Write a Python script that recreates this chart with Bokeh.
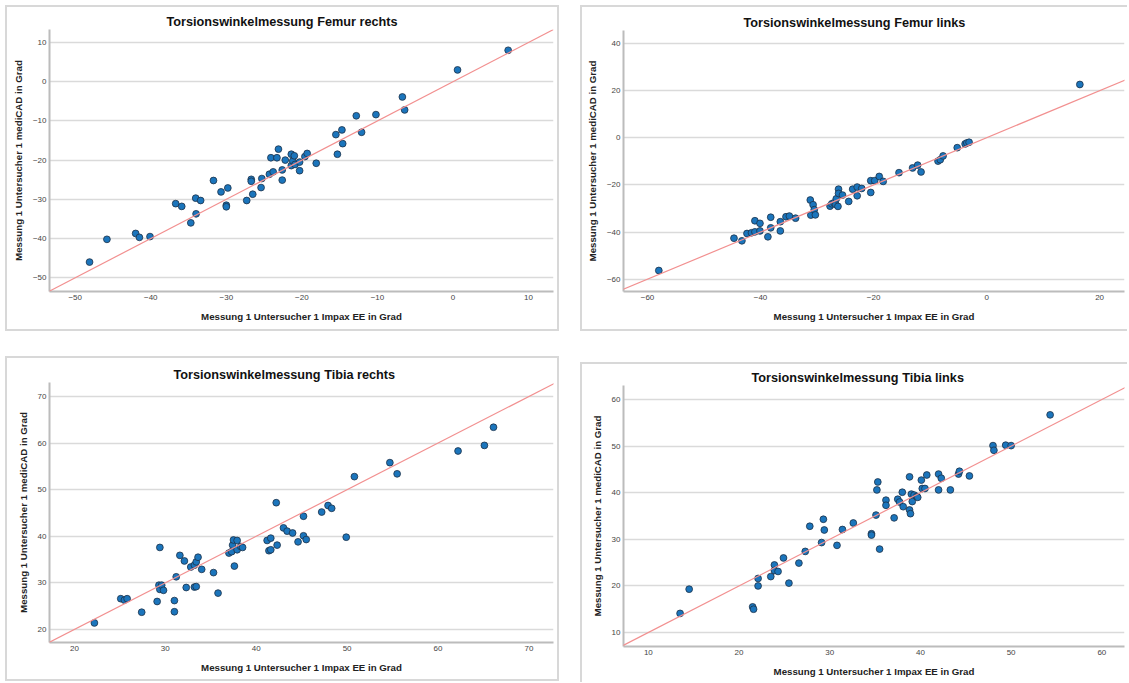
from bokeh.plotting import figure
from bokeh.layouts import row, column
from bokeh.models import FixedTicker, Slope
from bokeh.embed import file_html
from bokeh.resources import INLINE

# ---------------- data ----------------
X_LABEL = "Messung 1 Untersucher 1 Impax EE in Grad"
Y_LABEL = "Messung 1 Untersucher 1 mediCAD in Grad"

titles = ["Torsionswinkelmessung Femur rechts", "Torsionswinkelmessung Femur links",
          "Torsionswinkelmessung Tibia rechts", "Torsionswinkelmessung Tibia links"]

femur_re_x = [-48.1, -45.8, -42.0, -41.5, -40.1, -36.7, -35.9, -34.7, -34.05, -34.0, -33.4, -31.7,
              -30.7, -30.0, -30.0, -29.8, -27.3, -26.7, -26.7, -26.5, -25.3, -25.4, -24.1, -24.3,
              -23.8, -23.3, -23.1, -22.6, -22.6, -22.2, -21.4, -21.4, -21.2, -21.0, -20.9, -20.3,
              -20.3, -19.6, -19.3, -18.1, -15.5, -14.7, -15.3, -14.6, -12.8, -12.1, -10.2, -6.7,
              -6.4, 0.6, 7.3]
femur_re_y = [-46.0, -40.2, -38.7, -39.7, -39.5, -31.1, -31.8, -36.0, -29.7, -33.7, -30.3, -25.2,
              -28.1, -31.5, -31.9, -27.1, -30.3, -24.9, -25.4, -28.7, -24.7, -27.0, -19.4, -23.6,
              -23.0, -19.4, -17.2, -22.5, -25.1, -20.0, -18.5, -21.4, -20.2, -18.9, -21.1, -20.5,
              -22.7, -19.1, -18.3, -20.8, -13.5, -12.3, -18.5, -15.8, -8.7, -12.9, -8.4, -3.9,
              -7.2, 3.0, 8.0]

femur_li_x = [-58.0, -44.7, -43.3, -42.4, -41.6, -41.0, -41.0, -40.1, -40.1, -38.7, -38.2, -38.2,
              -36.5, -36.5, -35.5, -34.9, -33.8, -31.2, -31.1, -30.7, -30.5, -30.3, -27.7, -27.4,
              -27.0, -26.7, -26.6, -26.3, -26.2, -26.2, -25.5, -24.4, -23.7, -22.9, -22.9, -22.1,
              -20.5, -19.8, -20.5, -19.0, -18.3, -15.5, -13.1, -12.2, -11.6, -8.6, -8.2, -7.7,
              -5.2, -3.8, -3.5, -3.1, 16.5]
femur_li_y = [-56.3, -42.6, -43.7, -40.6, -40.3, -39.9, -35.2, -36.3, -39.5, -42.0, -33.7, -38.2,
              -35.6, -39.5, -33.5, -33.2, -34.1, -26.4, -32.8, -28.4, -30.5, -32.7, -29.0, -28.0,
              -27.6, -28.3, -25.9, -29.1, -21.8, -23.6, -24.3, -27.0, -21.8, -20.9, -24.6, -21.5,
              -18.2, -18.2, -23.2, -16.4, -18.5, -14.8, -12.8, -11.6, -14.5, -9.9, -9.3, -7.7,
              -4.2, -2.6, -2.2, -1.9, 22.6]

tibia_re_x = [22.2, 25.1, 25.5, 25.8, 27.4, 29.1, 29.4, 29.3, 29.4, 29.6, 29.8, 31.0, 31.0, 31.2,
              31.6, 32.1, 32.3, 32.8, 33.2, 33.4, 33.6, 33.2, 33.4, 34.0, 35.3, 35.8, 37.0, 37.3,
              37.4, 37.5, 37.6, 37.9, 37.9, 38.3, 38.5, 41.2, 41.6, 41.4, 41.6, 42.2, 42.3, 43.0,
              43.4, 44.0, 44.6, 45.2, 45.2, 45.5, 47.2, 47.9, 48.3, 49.9, 50.8, 54.7, 55.5, 62.2,
              65.1, 66.1]
tibia_re_y = [21.4, 26.6, 26.3, 26.6, 23.7, 26.0, 37.6, 29.5, 28.6, 29.5, 28.4, 26.2, 23.8, 31.3,
              35.9, 34.7, 29.0, 33.4, 33.8, 34.5, 35.5, 29.1, 29.2, 32.9, 32.2, 27.8, 36.4, 36.7,
              38.1, 39.2, 33.6, 37.1, 39.1, 37.8, 37.6, 39.1, 39.6, 36.9, 37.1, 47.2, 38.1, 41.8,
              41.1, 40.7, 38.8, 44.3, 40.1, 39.3, 45.2, 46.6, 46.0, 39.8, 52.8, 55.8, 53.4, 58.3,
              59.5, 63.4]

tibia_li_x = [13.5, 14.5, 21.5, 21.6, 22.1, 22.1, 23.5, 23.9, 23.9, 24.3, 24.9, 25.5, 26.6, 27.3,
              27.8, 29.1, 29.3, 29.4, 30.8, 31.4, 32.6, 34.6, 34.6, 35.1, 35.2, 35.3, 35.5, 36.2,
              36.2, 37.1, 37.5, 37.7, 38.0, 38.1, 38.8, 38.8, 38.9, 39.0, 39.1, 39.3, 39.6, 39.7,
              40.1, 40.2, 40.5, 40.7, 42.0, 42.3, 42.0, 43.3, 44.2, 44.3, 45.4, 48.0, 48.1, 49.4,
              50.0, 54.3]
tibia_li_y = [14.1, 19.3, 15.5, 15.0, 21.6, 20.0, 22.0, 24.5, 23.3, 23.1, 26.0, 20.6, 24.9, 27.4,
              32.8, 29.3, 34.3, 32.0, 28.7, 32.1, 33.5, 31.2, 30.9, 35.2, 40.6, 42.3, 27.9, 38.4,
              37.3, 34.6, 38.6, 38.0, 40.1, 37.0, 43.4, 36.3, 35.5, 39.7, 38.1, 39.5, 39.2, 39.0,
              42.7, 40.9, 40.9, 43.8, 44.0, 43.1, 40.6, 40.6, 44.0, 44.6, 43.6, 50.1, 49.1, 50.2,
              50.1, 56.7]

femur_re_ticks = [-50, -40, -30, -20, -10, 0, 10]
femur_li_ticks = [-60, -40, -20, 0, 20, 40]
tibia_re_ticks = [20, 30, 40, 50, 60, 70]
tibia_li_ticks = [10, 20, 30, 40, 50, 60]

FONT = "Liberation Sans"
FRAME = "#d8d8d8"


def panel(title, xs, ys, xr, yr, xticks, yticks, w, h, mb, title_off, sides):
    p = figure(width=w, height=h, x_range=xr, y_range=yr, output_backend="svg",
               toolbar_location=None, title=title,
               min_border_left=mb[0], min_border_right=mb[1],
               min_border_top=mb[2], min_border_bottom=mb[3])
    p.border_fill_color = None
    p.background_fill_color = "white"
    p.outline_line_color = None
    p.title.align = "left"
    p.title.offset = title_off
    p.title.standoff = 2
    p.title.text_font = FONT
    p.title.text_font_size = "12.7px"
    p.title.text_font_style = "bold"
    p.title.text_color = "#111111"

    p.xaxis.axis_label = X_LABEL
    p.yaxis.axis_label = Y_LABEL
    p.xaxis.ticker = FixedTicker(ticks=xticks)
    p.yaxis.ticker = FixedTicker(ticks=yticks)
    for ax in (p.xaxis[0], p.yaxis[0]):
        ax.major_tick_line_color = None
        ax.minor_tick_line_color = None
        ax.major_tick_out = 0
        ax.major_tick_in = 0
        ax.major_label_standoff = 3
        ax.axis_label_standoff = 6
        ax.axis_line_color = "#bcbcbc"
        ax.axis_line_width = 2
        ax.major_label_text_font = FONT
        ax.major_label_text_font_size = "8px"
        ax.major_label_text_color = "#454545"
        ax.axis_label_text_font = FONT
        ax.axis_label_text_font_size = "9.7px"
        ax.axis_label_text_font_style = "bold"
        ax.axis_label_text_color = "#222222"
    p.xaxis[0].axis_label_standoff = 8
    p.xgrid.visible = False
    p.ygrid.grid_line_color = "#dadada"
    p.ygrid.grid_line_width = 1.5

    p.add_layout(Slope(gradient=1, y_intercept=0, line_color="#f29090", line_width=1.2))
    p.scatter(xs, ys, size=6.8, fill_color="#1b75bc", line_color="#1d3148", line_width=0.8)

    sh = []
    if "l" in sides:
        sh.append(f"inset 2px 0 0 0 {FRAME}")
    if "t" in sides:
        sh.append(f"inset 0 2px 0 0 {FRAME}")
    if "r" in sides:
        sh.append(f"inset -2px 0 0 0 {FRAME}")
    if "b" in sides:
        sh.append(f"inset 0 -2px 0 0 {FRAME}")
    p.styles = {"box-shadow": ", ".join(sh)}
    return p


p1 = panel(titles[0], femur_re_x, femur_re_y, (-53.4, 13.3), (-53.5, 13.3),
           femur_re_ticks, femur_re_ticks, 554, 326, (44, 6, 24, 40), 117, "ltrb")
p2 = panel(titles[1], femur_li_x, femur_li_y, (-64.25, 24.4), (-65.2, 45.5),
           femur_li_ticks, femur_li_ticks, 547, 326, (43, 3, 25, 40), 120, "ltb")
p3 = panel(titles[2], tibia_re_x, tibia_re_y, (17.26, 72.7), (17.2, 73.0),
           tibia_re_ticks, tibia_re_ticks, 554, 325, (41, 6, 26, 39), 124, "ltrb")
p4 = panel(titles[3], tibia_li_x, tibia_li_y, (7.26, 62.5), (7.0, 63.0),
           tibia_li_ticks, tibia_li_ticks, 547, 320, (40, 3, 23, 36), 128, "lt")

col1 = column(p1, p3, spacing=25)
col2 = column(p2, p4, spacing=31)
root = row(col1, col2, spacing=21)
root.margin = (5, 0, 0, 5)

open("out.html", "w").write(file_html(root, INLINE))
